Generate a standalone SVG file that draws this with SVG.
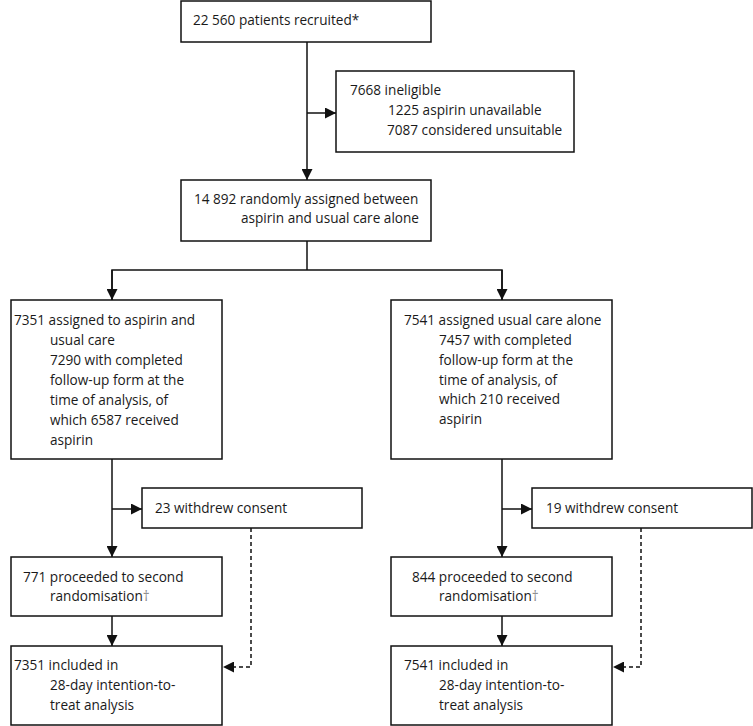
<svg xmlns="http://www.w3.org/2000/svg" width="753" height="726" viewBox="0 0 753 726">
<defs>
<style>
.box{fill:#fff;stroke:#111;stroke-width:1.5}
.t{font-family:"Open Sans","Noto Sans",sans-serif;font-size:13.6px;fill:#1a1a1a}
.ln{fill:none;stroke:#111;stroke-width:1.5}
.dash{fill:none;stroke:#111;stroke-width:1.5;stroke-dasharray:4 3}
.dag{fill:#8a8a8a}
</style>
<marker id="ah" viewBox="0 0 10 10" refX="10" refY="5" markerWidth="11" markerHeight="11" markerUnits="userSpaceOnUse" orient="auto">
<path d="M0,0 L10,5 L0,10 Z" fill="#111"/>
</marker>
</defs>
<rect width="753" height="726" fill="#fff"/>
<g id="connectors">
<line class="ln" x1="307" y1="42" x2="307" y2="180" marker-end="url(#ah)"/>
<line class="ln" x1="307" y1="113" x2="336" y2="113" marker-end="url(#ah)"/>
<line class="ln" x1="307" y1="241" x2="307" y2="270"/>
<polyline class="ln" points="112,300 112,270 502,270 502,300"/>
<line class="ln" x1="112" y1="270" x2="112" y2="300" marker-end="url(#ah)"/>
<line class="ln" x1="502" y1="270" x2="502" y2="300" marker-end="url(#ah)"/>
<line class="ln" x1="112" y1="459" x2="112" y2="557" marker-end="url(#ah)"/>
<line class="ln" x1="112" y1="509" x2="142" y2="509" marker-end="url(#ah)"/>
<line class="ln" x1="112" y1="616" x2="112" y2="646" marker-end="url(#ah)"/>
<polyline class="dash" points="251,528 251,667 223,667" marker-end="url(#ah)"/>
<line class="ln" x1="502" y1="459" x2="502" y2="557" marker-end="url(#ah)"/>
<line class="ln" x1="502" y1="509" x2="532" y2="509" marker-end="url(#ah)"/>
<line class="ln" x1="502" y1="616" x2="502" y2="646" marker-end="url(#ah)"/>
<polyline class="dash" points="641,528 641,667 613,667" marker-end="url(#ah)"/>
</g>
<g id="recruited">
<rect class="box" x="181" y="1" width="250" height="41"/>
<text class="t" x="193" y="25">22 560 patients recruited*</text>
</g>
<g id="ineligible">
<rect class="box" x="336" y="71" width="238" height="81"/>
<text class="t" x="350" y="95">7668 ineligible</text>
<text class="t" x="388" y="115">1225 aspirin unavailable</text>
<text class="t" x="387" y="135">7087 considered unsuitable</text>
</g>
<g id="randomised">
<rect class="box" x="181" y="180" width="250" height="61"/>
<text class="t" x="194" y="204">14 892 randomly assigned between</text>
<text class="t" x="241" y="223">aspirin and usual care alone</text>
</g>
<g id="aspirin">
<rect class="box" x="11" y="300" width="211" height="159"/>
<text class="t" x="14" y="325">7351 assigned to aspirin and</text>
<text class="t" x="50" y="345">usual care</text>
<text class="t" x="50" y="365">7290 with completed</text>
<text class="t" x="50" y="385">follow-up form at the</text>
<text class="t" x="50" y="405">time of analysis, of</text>
<text class="t" x="50" y="425">which 6587 received</text>
<text class="t" x="50" y="445">aspirin</text>
</g>
<g id="usualcare">
<rect class="box" x="391" y="300" width="221" height="159"/>
<text class="t" x="404" y="325">7541 assigned usual care alone</text>
<text class="t" x="439" y="345">7457 with completed</text>
<text class="t" x="439" y="365">follow-up form at the</text>
<text class="t" x="439" y="385">time of analysis, of</text>
<text class="t" x="439" y="404">which 210 received</text>
<text class="t" x="439" y="424">aspirin</text>
</g>
<g id="withdrew-left">
<rect class="box" x="142" y="488" width="220" height="40"/>
<text class="t" x="155" y="513">23 withdrew consent</text>
</g>
<g id="second-left">
<rect class="box" x="11" y="557" width="211" height="59"/>
<text class="t" x="23" y="582">771 proceeded to second</text>
<text class="t" x="50" y="601">randomisation<tspan class="dag">†</tspan></text>
</g>
<g id="itt-left">
<rect class="box" x="11" y="646" width="211" height="79"/>
<text class="t" x="14" y="670">7351 included in</text>
<text class="t" x="50" y="690">28-day intention-to-</text>
<text class="t" x="50" y="710">treat analysis</text>
</g>
<g id="withdrew-right">
<rect class="box" x="532" y="488" width="220" height="40"/>
<text class="t" x="546" y="513">19 withdrew consent</text>
</g>
<g id="second-right">
<rect class="box" x="391" y="557" width="221" height="59"/>
<text class="t" x="412" y="582">844 proceeded to second</text>
<text class="t" x="439" y="601">randomisation<tspan class="dag">†</tspan></text>
</g>
<g id="itt-right">
<rect class="box" x="391" y="646" width="221" height="79"/>
<text class="t" x="404" y="670">7541 included in</text>
<text class="t" x="439" y="690">28-day intention-to-</text>
<text class="t" x="439" y="710">treat analysis</text>
</g>
</svg>
